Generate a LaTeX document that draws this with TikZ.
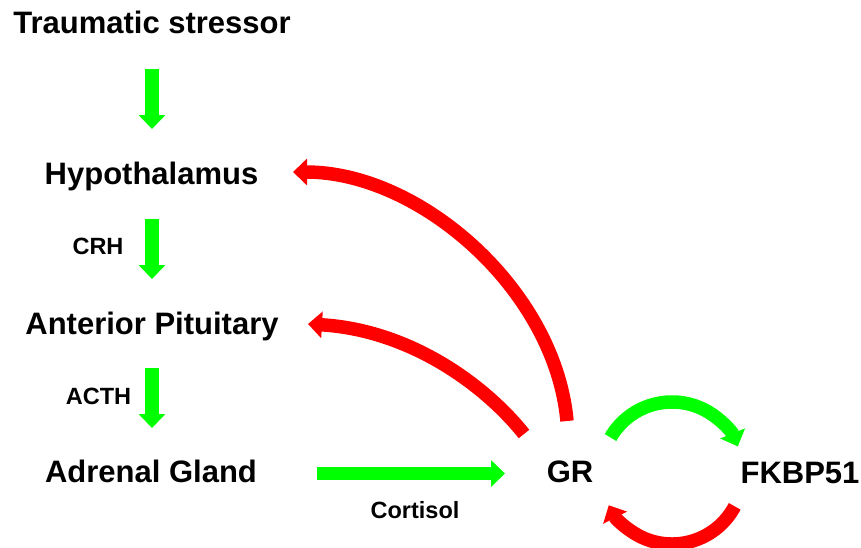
\documentclass[tikz,border=0pt]{standalone}
\usepackage{fontspec}
\setmainfont{Liberation Sans}
\usetikzlibrary{arrows.meta}
\definecolor{agreen}{RGB}{0,255,0}
\definecolor{ared}{RGB}{255,0,0}
\tikzset{
  big/.style={font=\fontsize{31}{35}\selectfont\bfseries, inner sep=0pt, anchor=base},
  small/.style={font=\fontsize{23.5}{27}\selectfont\bfseries, inner sep=0pt, anchor=base},
  fat/.style={line width=13.5pt, -{Triangle[width=26pt,length=14pt]}},
  garrow/.style={fat, draw=agreen},
  rarrow/.style={fat, draw=ared},
}
\begin{document}
\begin{tikzpicture}[x=1pt,y=-1pt]
\useasboundingbox (0,0) rectangle (861,547);
\node[big] (ts) at (152,33) {Traumatic stressor};
\node[big] (hy) at (151.5,184) {Hypothalamus};
\node[big] (ap) at (152,334) {Anterior Pituitary};
\node[big] (ag) at (151,482) {Adrenal Gland};
\node[big] (gr) at (570,482) {GR};
\node[big] (fk) at (800,483) {FKBP51};
\node[small] (crh) at (98,254) {CRH};
\node[small] (acth) at (98.5,404) {ACTH};
\node[small] (cort) at (415,518) {Cortisol};
\coordinate (a1s) at (152,69);
\coordinate (a1e) at (152,129);
\coordinate (a2s) at (152,219);
\coordinate (a2e) at (152,279);
\coordinate (a3s) at (152,368);
\coordinate (a3e) at (152,428);
\coordinate (cs) at (317,473.5);
\coordinate (ce) at (505,473.5);
\draw[garrow] (a1s) -- (a1e);
\draw[garrow] (a2s) -- (a2e);
\draw[garrow] (a3s) -- (a3e);
\draw[garrow] (cs) -- (ce);
\coordinate (r1s) at (567,421);
\coordinate (r1e) at (293,172);
\draw[rarrow] (r1s) .. controls (555,290) and (420,172) .. (r1e);
\coordinate (r2s) at (524,434);
\coordinate (r2e) at (308,324);
\draw[rarrow] (r2s) .. controls (485,385) and (410,330) .. (r2e);
\coordinate (gc) at (672,473);
\draw[garrow] ([shift={(-150:71)}]gc) arc[start angle=-150, end angle=-22, radius=71];
\draw[rarrow] ([shift={(28:71)}]gc) arc[start angle=28, end angle=153, radius=71];
\end{tikzpicture}
\end{document}
